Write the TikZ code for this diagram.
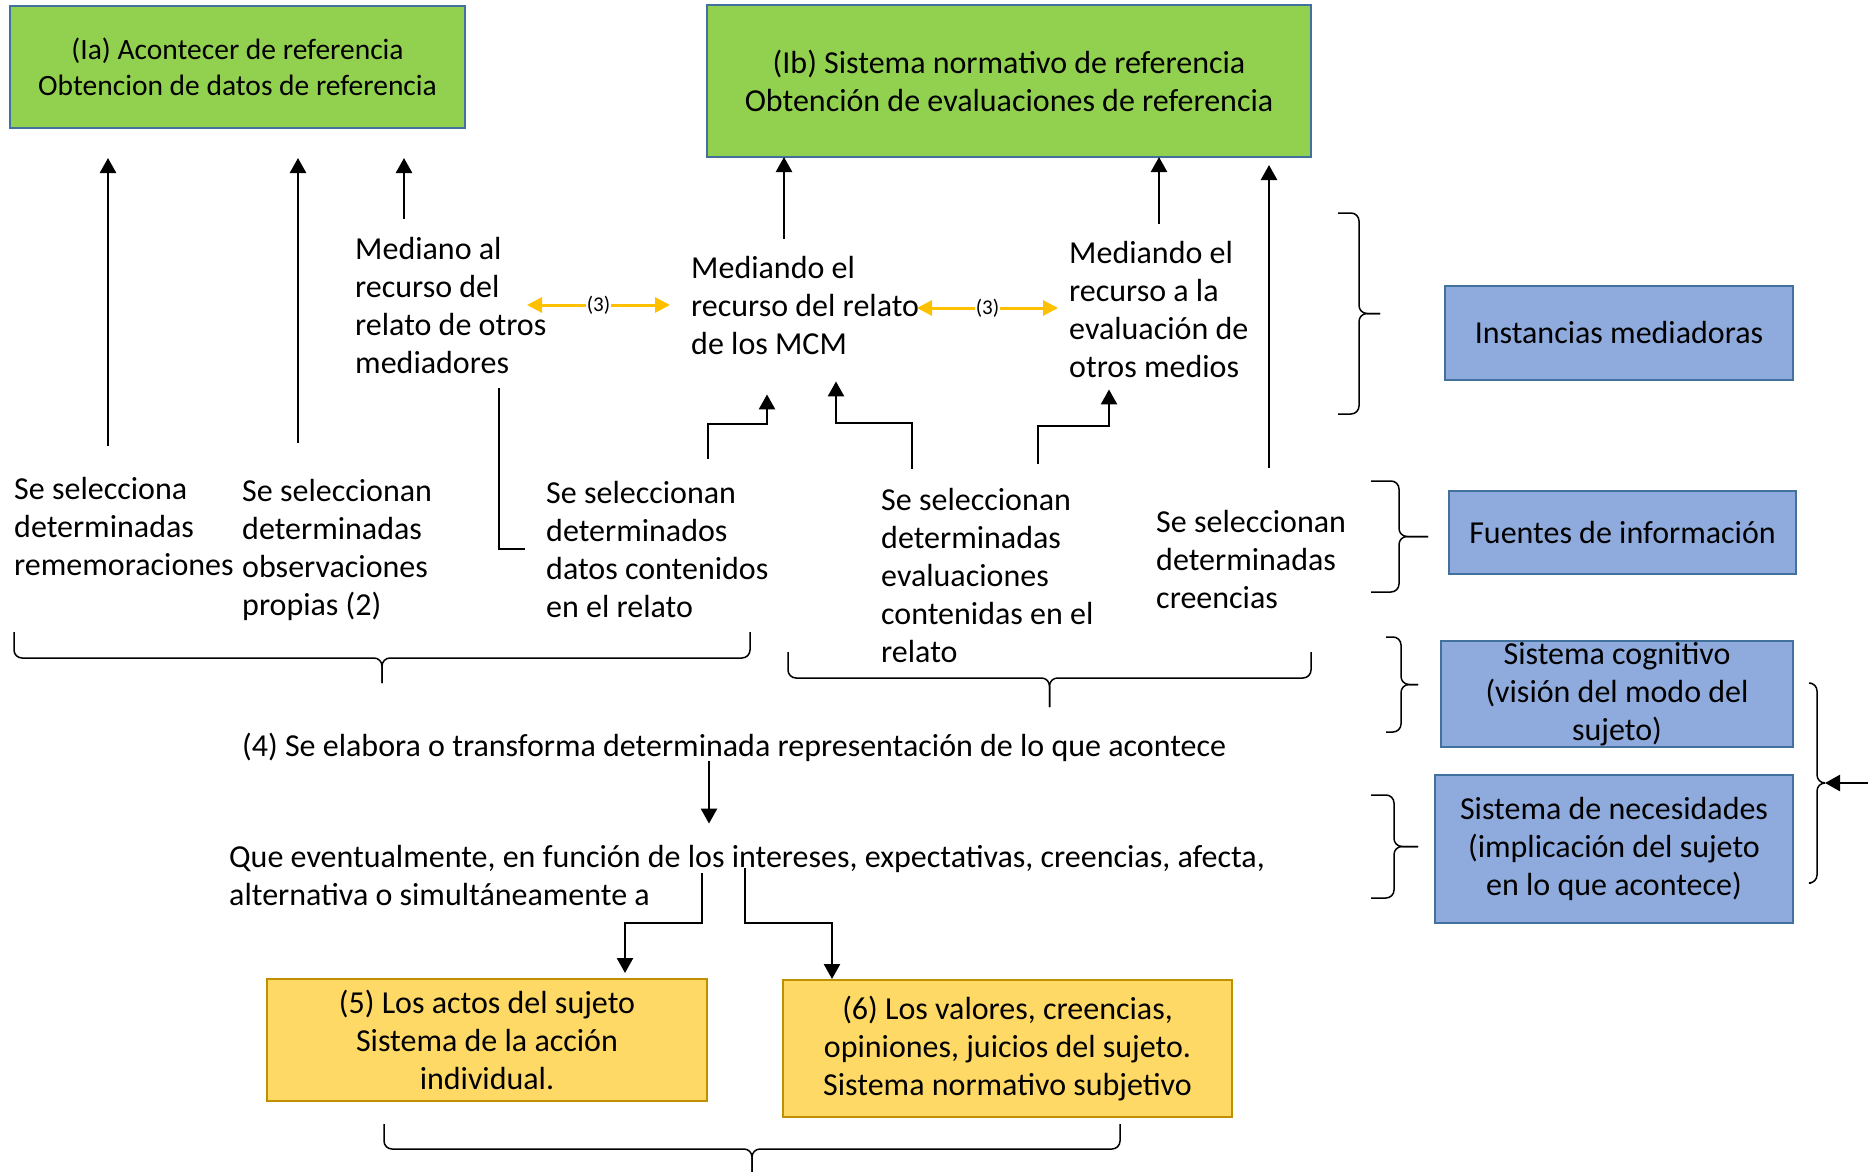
\documentclass[tikz,border=0pt]{standalone}
\usepackage{fontspec}
\setmainfont{Carlito}
\usepackage{tikz}
\usetikzlibrary{arrows.meta,calc}
\definecolor{boxgreen}{HTML}{92D050}
\definecolor{boxblue}{HTML}{8FAADC}
\definecolor{boxyellow}{HTML}{FFD966}
\definecolor{edgeblue}{HTML}{41719C}
\definecolor{edgegold}{HTML}{BF9000}
\definecolor{arrowgold}{HTML}{FFC000}
\def\bracedown(#1:#2:#3:#4:#5){\draw[brc] (#1,#3) -- (#1,#4) -- ({(#1+#2)/2},#4) -- ({(#1+#2)/2},#5); \draw[brc] (#2,#3) -- (#2,#4) -- ({(#1+#2)/2},#4) -- ({(#1+#2)/2},#5);}
\def\braceright(#1:#2:#3:#4:#5){\draw[brc] (#3,#1) -- (#4,#1) -- (#4,{(#1+#2)/2}) -- (#5,{(#1+#2)/2}); \draw[brc] (#3,#2) -- (#4,#2) -- (#4,{(#1+#2)/2}) -- (#5,{(#1+#2)/2});}

\begin{document}
\begin{tikzpicture}[x=1pt, y=-1pt,
		txt/.style={anchor=west, align=left, inner sep=0pt, font=\fontsize{32}{38}\selectfont},
		box/.style={line width=2.5pt, inner sep=0pt, outer sep=0pt, align=center, font=\fontsize{32}{38}\selectfont},
		greenbox/.style={box, draw=edgeblue, fill=boxgreen},
		bluebox/.style={box, draw=edgeblue, fill=boxblue},
		yellowbox/.style={box, draw=edgegold, fill=boxyellow},
		arr/.style={line width=2.5pt, -{Triangle[width=16pt,length=15pt]}},
		yarr/.style={line width=3pt, draw=arrowgold, {Triangle[width=15pt,length=15pt]}-{Triangle[width=15pt,length=15pt]}},
		lbl/.style={fill=white, inner sep=1pt, font=\fontsize{21}{24}\selectfont},
		brc/.style={line width=1.5pt, rounded corners=8pt}]
		%%%%% START %%%%%
		
		\useasboundingbox[fill=white] (0,0) rectangle (1868,1172);
		
		% reference boxes
		\node[greenbox, minimum width=455pt, minimum height=122pt, font=\fontsize{29.5}{36}\selectfont] (ia) at (237.5,67) {(Ia) Acontecer de referencia\\Obtencion de datos de referencia};
		\node[greenbox, minimum width=604pt, minimum height=152pt, font=\fontsize{32}{38.5}\selectfont] (ib) at (1009,81) {(Ib) Sistema normativo de referencia\\Obtención de evaluaciones de referencia};
		
		% mediators
		\node[txt] (med1) at (355,306) {Mediano al\\recurso del\\relato de otros\\mediadores};
		\node[txt] (med2) at (691,306) {Mediando el\\recurso del relato\\de los MCM};
		\node[txt] (med3) at (1069,310) {Mediando el\\recurso a la\\evaluación de\\otros medios};
		
		% sources
		\node[txt] (sel1) at (14,527) {Se selecciona\\determinadas\\rememoraciones};
		\node[txt] (sel2) at (242,550) {Se seleccionan\\determinadas\\observaciones\\propias (2)};
		\node[txt] (sel3) at (546,550) {Se seleccionan\\determinados\\datos contenidos\\en el relato};
		\node[txt] (sel4) at (881,575) {Se seleccionan\\determinadas\\evaluaciones\\contenidas en el\\relato};
		\node[txt] (sel5) at (1156,560) {Se seleccionan\\determinadas\\creencias};
		
		\node[txt] (rep) at (242,747) {(4) Se elabora o transforma determinada representación de lo que acontece};
		\node[txt] (efe) at (229,875) {Que eventualmente, en función de los intereses, expectativas, creencias, afecta,\\alternativa o simultáneamente a};
		
		\node[yellowbox, minimum width=440pt, minimum height=122pt] (box5) at (487,1040) {(5) Los actos del sujeto\\Sistema de la acción\\individual.};
		\node[yellowbox, minimum width=449pt, minimum height=137pt] (box6) at (1007.5,1048.5) {(6) Los valores, creencias,\\opiniones, juicios del sujeto.\\Sistema normativo subjetivo};
		
		% legend
		\node[bluebox, minimum width=348pt, minimum height=94pt] (inst) at (1619,333) {Instancias mediadoras};
		\node[bluebox, minimum width=347pt, minimum height=83pt] (fuen) at (1622.5,532.5) {Fuentes de información};
		\node[bluebox, minimum width=352pt, minimum height=106pt] (cogn) at (1617,694) {Sistema cognitivo\\(visión del modo del\\sujeto)};
		\node[bluebox, minimum width=358pt, minimum height=148pt] (nece) at (1614,849) {Sistema de necesidades\\(implicación del sujeto\\en lo que acontece)};
		
		% columns and knees
		\coordinate (c1) at (108,0);
		\coordinate (c2) at (298,0);
		\coordinate (c3) at (404,0);
		\coordinate (c4) at (784,0);
		\coordinate (c5) at (1159,0);
		\coordinate (c6) at (1269,0);
		\coordinate (e1a) at (708,424);
		\coordinate (e1b) at (767,424);
		\coordinate (e2a) at (912,423);
		\coordinate (e2b) at (836,423);
		\coordinate (e3a) at (1038,426);
		\coordinate (e3b) at (1109,426);
		\coordinate (l1) at (499,549);
		\coordinate (d1) at (709,0);
		\coordinate (d2a) at (702,873);
		\coordinate (d2b) at (702,923);
		\coordinate (d2c) at (625,923);
		\coordinate (d3a) at (745,868);
		\coordinate (d3b) at (745,923);
		\coordinate (d3c) at (832,923);
		\coordinate (y1a) at (527,305);
		\coordinate (y1b) at (670,305);
		\coordinate (y2a) at (917,308);
		\coordinate (y2b) at (1058,308);
		\coordinate (rin) at (1868,783);
		\coordinate (b5tip) at (1825,783);
		
		% upward arrows
		\draw[arr, shorten <=32pt, shorten >=30pt] (sel1.north -| c1) -- (ia.south -| c1);
		\draw[arr, shorten <=36pt, shorten >=30pt] (sel2.north -| c2) -- (ia.south -| c2);
		\draw[arr, shorten <=19pt, shorten >=30pt] (med1.north -| c3) -- (ia.south -| c3);
		\draw[arr, shorten <=18pt] (med2.north -| c4) -- (ib.south -| c4);
		\draw[arr, shorten <=18pt] (med3.north -| c5) -- (ib.south -| c5);
		\draw[arr, shorten <=43pt, shorten >=8pt] (sel5.north -| c6) -- (ib.south -| c6);
		
		\draw[arr, shorten <=23pt, shorten >=39pt] (sel3.north -| e1a) -- (e1a) -- (e1b) -- (med2.south -| e1b);
		\draw[arr, shorten <=19pt, shorten >=26pt] (sel4.north -| e2a) -- (e2a) -- (e2b) -- (med2.south -| e2b);
		\draw[arr, shorten <=24pt, shorten >=11pt] (sel4.north -| e3a) -- (e3a) -- (e3b) -- (med3.south -| e3b);
		\draw[line width=1.5pt, shorten <=14pt, shorten >=21pt] (med1.south -| l1) -- (l1) -- (l1 -| sel3.west);
		
		\draw[yarr] (y1a) -- node[lbl] (n3a) {(3)} (y1b);
		\draw[yarr] (y2a) -- node[lbl] (n3b) {(3)} (y2b);
		
		% downward arrows
		\draw[arr, shorten >=21pt] (rep.south -| d1) -- (efe.north -| d1);
		\draw[arr, shorten >=6pt] (d2a) -- (d2b) -- (d2c) -- (box5.north -| d2c);
		\draw[arr, shorten >=1pt] (d3a) -- (d3b) -- (d3c) -- (box6.north -| d3c);
		\draw[arr] (rin) -- (b5tip);
		
		% braces
		\braceright(213:414:1338:1359:1380)
		\braceright(481:592:1371:1399:1428)
		\braceright(637:732:1386:1401:1418)
		\braceright(795:898:1371:1394:1418)
		\braceright(683:883:1811:1817:1825)
		\bracedown(14:750:632:658:683)
		\bracedown(788:1311:652:678:707)
		\bracedown(384:1120:1124:1149:1172)
		
		%%%%% END %%%%%
	\end{tikzpicture}
\end{document}
